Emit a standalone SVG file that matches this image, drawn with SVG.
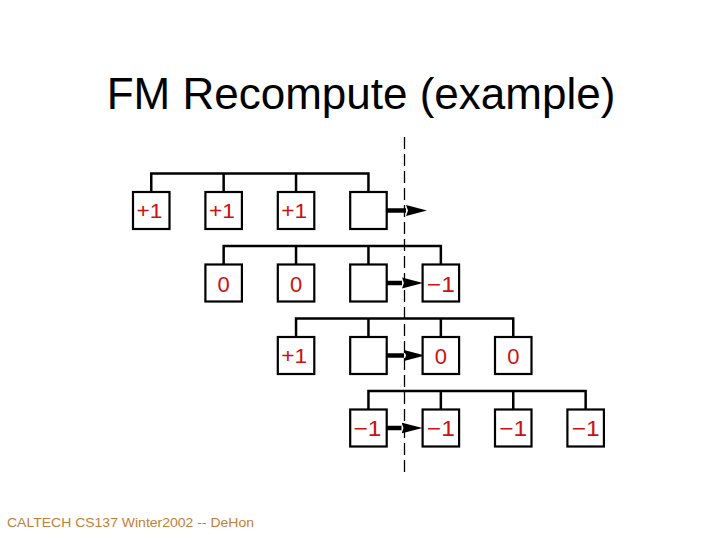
<svg xmlns="http://www.w3.org/2000/svg" width="720" height="540" viewBox="0 0 720 540">
<style>
.box{fill:#fff;stroke:#000;stroke-width:2.2}
.bus{fill:none;stroke:#000;stroke-width:2.5}
.arr{fill:none;stroke:#000;stroke-width:4.5;marker-end:url(#ah)}
.cut{fill:none;stroke:#000;stroke-width:1.3;stroke-dasharray:12 5}
.lbl{font-family:"Liberation Sans",Arial,sans-serif;font-size:22px;fill:#cc1111;text-anchor:middle}
.plus{font-family:"Liberation Sans",Arial,sans-serif;font-size:20px;fill:#cc1111}
.title{font-family:"Liberation Sans",Arial,sans-serif;font-size:44px;fill:#000;text-anchor:middle}
.foot{font-family:"Liberation Sans",Arial,sans-serif;font-size:13.5px;fill:#c0803a}
</style>
<defs>
<marker id="ah" markerUnits="userSpaceOnUse" markerWidth="21" markerHeight="12" refX="0" refY="6" orient="auto" viewBox="0 0 21 12">
<path d="M0,0.5 L21,6 L0,11.5 L2,6 z" fill="#000"/>
</marker>
</defs>
<rect width="720" height="540" fill="#fff"/>
<text class="title" x="361" y="109">FM Recompute (example)</text>
<g id="connectors">
<line class="cut" x1="404.5" y1="137" x2="404.5" y2="474"/>
<path class="bus" d="M151.25,192 V173.5 H368.45 V192 M223.65,173.5 V192 M296.05,173.5 V192"/>
<path class="bus" d="M223.65,264.5 V246 H440.85 V264.5 M296.05,246 V264.5 M368.45,246 V264.5"/>
<path class="bus" d="M296.05,337 V318.5 H513.25 V337 M368.45,318.5 V337 M440.85,318.5 V337"/>
<path class="bus" d="M368.45,409.5 V391 H585.65 V409.5 M440.85,391 V409.5 M513.25,391 V409.5"/>
<line class="arr" x1="386.7" y1="210.5" x2="406" y2="210.5"/>
<line class="arr" x1="386.7" y1="283" x2="402" y2="283"/>
<line class="arr" x1="386.7" y1="355.5" x2="404" y2="355.5"/>
<line class="arr" x1="386.7" y1="428" x2="401.5" y2="428"/>
</g>
<g id="r1c0"><rect class="box" x="133" y="192" width="36.5" height="37"/><text class="plus" x="136.5" y="218" textLength="26" lengthAdjust="spacingAndGlyphs">+1</text></g>
<g id="r1c1"><rect class="box" x="205.4" y="192" width="36.5" height="37"/><text class="plus" x="208.9" y="218" textLength="26" lengthAdjust="spacingAndGlyphs">+1</text></g>
<g id="r1c2"><rect class="box" x="277.8" y="192" width="36.5" height="37"/><text class="plus" x="281.3" y="218" textLength="26" lengthAdjust="spacingAndGlyphs">+1</text></g>
<g id="r1c3"><rect class="box" x="350.2" y="192" width="36.5" height="37"/></g>
<g id="r2c1"><rect class="box" x="205.4" y="264.5" width="36.5" height="37"/><text class="lbl" x="223.65" y="291.5">0</text></g>
<g id="r2c2"><rect class="box" x="277.8" y="264.5" width="36.5" height="37"/><text class="lbl" x="296.05" y="291.5">0</text></g>
<g id="r2c3"><rect class="box" x="350.2" y="264.5" width="36.5" height="37"/></g>
<g id="r2c4"><rect class="box" x="422.6" y="264.5" width="36.5" height="37"/><text class="lbl" x="440.85" y="291.5" textLength="28" lengthAdjust="spacingAndGlyphs">−1</text></g>
<g id="r3c2"><rect class="box" x="277.8" y="337" width="36.5" height="37"/><text class="plus" x="281.3" y="363" textLength="26" lengthAdjust="spacingAndGlyphs">+1</text></g>
<g id="r3c3"><rect class="box" x="350.2" y="337" width="36.5" height="37"/></g>
<g id="r3c4"><rect class="box" x="422.6" y="337" width="36.5" height="37"/><text class="lbl" x="440.85" y="364">0</text></g>
<g id="r3c5"><rect class="box" x="495" y="337" width="36.5" height="37"/><text class="lbl" x="513.25" y="364">0</text></g>
<g id="r4c3"><rect class="box" x="350.2" y="409.5" width="36.5" height="37"/><text class="lbl" x="367.5" y="435.5" textLength="28" lengthAdjust="spacingAndGlyphs">−1</text></g>
<g id="r4c4"><rect class="box" x="422.6" y="409.5" width="36.5" height="37"/><text class="lbl" x="440.85" y="435.5" textLength="28" lengthAdjust="spacingAndGlyphs">−1</text></g>
<g id="r4c5"><rect class="box" x="495" y="409.5" width="36.5" height="37"/><text class="lbl" x="513.25" y="435.5" textLength="28" lengthAdjust="spacingAndGlyphs">−1</text></g>
<g id="r4c6"><rect class="box" x="567.4" y="409.5" width="36.5" height="37"/><text class="lbl" x="585.65" y="435.5" textLength="28" lengthAdjust="spacingAndGlyphs">−1</text></g>
<text class="foot" x="7" y="527" textLength="247" lengthAdjust="spacingAndGlyphs">CALTECH CS137 Winter2002 -- DeHon</text>
</svg>
